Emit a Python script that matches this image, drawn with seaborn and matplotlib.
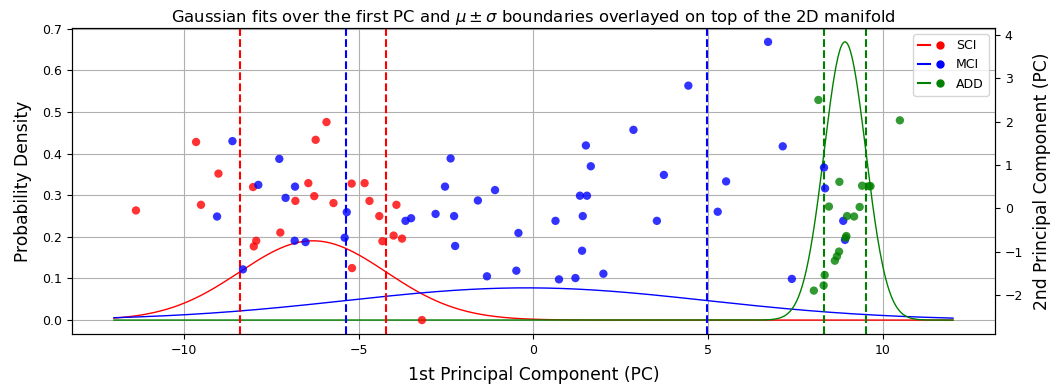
import numpy as np
import pandas as pd
import matplotlib
matplotlib.use("Agg")
import matplotlib.pyplot as plt
import seaborn as sns
from matplotlib.lines import Line2D
from matplotlib.legend_handler import HandlerTuple

groups = ["SCI", "MCI", "ADD"]
colors = {"SCI": "red", "MCI": "blue", "ADD": "green"}

# Gaussian fit parameters (mean, std) along the 1st PC
mu = {"SCI": -6.31, "MCI": -0.20, "ADD": 8.91}
sigma = {"SCI": 2.095, "MCI": 5.157, "ADD": 0.597}

sci_pc1 = [-11.37, -9.65, -9.51, -9.01, -8.02, -8.00, -7.93, -7.24, -6.81, -6.44, -6.27, -6.23,
           -5.92, -5.72, -5.20, -5.19, -4.83, -4.69, -4.41, -4.32, -4.00, -3.92, -3.76, -3.19]
sci_pc2 = [-0.05, 1.53, 0.08, 0.80, 0.49, -0.88, -0.75, -0.56, 0.17, 0.58, 0.28, 1.58,
           1.99, 0.12, 0.57, -1.38, 0.58, 0.17, -0.18, -0.76, -0.63, 0.08, -0.70, -2.58]

mci_pc1 = [-8.61, -9.05, -7.87, -8.31, -7.27, -7.09, -6.82, -6.83, -6.52, -5.34, -5.40,
           -3.66, -3.50, -2.80, -2.53, -2.37, -2.27, -2.24, -1.59, -1.33, -1.10, -0.49, -0.43,
           0.63, 0.73, 1.20, 1.33, 1.53, 1.41, 1.39, 1.50, 1.64, 2.00, 2.86, 3.53, 3.73, 4.43,
           5.27, 5.51, 6.71, 7.13, 7.39, 8.31, 8.34, 8.86, 8.91]
mci_pc2 = [1.55, -0.19, 0.54, -1.41, 1.14, 0.24, 0.50, -0.75, -0.78, -0.09, -0.68,
           -0.29, -0.23, -0.13, 0.50, 1.15, -0.18, -0.87, 0.18, -1.57, 0.42, -1.44, -0.57,
           -0.29, -1.64, -1.61, 0.29, 0.29, -0.18, -0.98, 1.45, 0.97, -1.51, 1.81, -0.29, 0.77, 2.83,
           -0.08, 0.62, 3.84, 1.43, -1.63, 0.94, 0.46, -0.29, -0.73]

add_pc1 = [8.15, 8.75, 8.45, 8.97, 9.17, 9.33, 9.40, 9.60, 9.64, 8.95, 8.93, 8.74, 8.68,
           8.62, 8.33, 8.30, 8.02, 10.48]
add_pc2 = [2.50, 0.61, 0.04, -0.18, -0.19, 0.03, 0.52, 0.51, 0.51, -0.64, -0.68, -1.00, -1.11,
           -1.21, -1.54, -1.78, -1.90, 2.03]

points = pd.DataFrame({
    "pc1": sci_pc1 + mci_pc1 + add_pc1,
    "pc2": sci_pc2 + mci_pc2 + add_pc2,
    "group": ["SCI"] * len(sci_pc1) + ["MCI"] * len(mci_pc1) + ["ADD"] * len(add_pc1),
})

xs = np.linspace(-12, 12, 1000)
curves = pd.concat([
    pd.DataFrame({"x": xs,
                  "density": np.exp(-0.5 * ((xs - mu[g]) / sigma[g]) ** 2) / (np.sqrt(2 * np.pi) * sigma[g]),
                  "group": g})
    for g in groups
], ignore_index=True)

fig = plt.figure(figsize=(10.63, 3.87), dpi=100)
ax = fig.add_axes([0.0677, 0.137, 0.8683, 0.7907])
ax.grid(True, color="#b0b0b0", linewidth=0.8)
ax.set_axisbelow(True)

sns.lineplot(data=curves, x="x", y="density", hue="group", hue_order=groups,
             palette=colors, linewidth=1.0, legend=False, ax=ax, sort=False,
             estimator=None)
for g in groups:
    ax.axvline(mu[g] - sigma[g], color=colors[g], linestyle="--", linewidth=1.5)
    ax.axvline(mu[g] + sigma[g], color=colors[g], linestyle="--", linewidth=1.5)

ax2 = ax.twinx()
sns.scatterplot(data=points, x="pc1", y="pc2", hue="group", hue_order=groups,
                palette=colors, s=36, alpha=0.8, linewidth=0, legend=False, ax=ax2)

ax.set_xlabel("1st Principal Component (PC)", fontsize=12.3, labelpad=7)
ax.set_ylabel("Probability Density", fontsize=12.3, labelpad=7.5)
ax2.set_ylabel("2nd Principal Component (PC)", fontsize=12.3, labelpad=7.5)
ax.set_title(r"Gaussian fits over the first PC and $\mu \pm \sigma$ boundaries overlayed on top of the 2D manifold",
             fontsize=11.8, pad=4)
ax.tick_params(labelsize=9)
ax2.tick_params(labelsize=9)
ax.margins(x=0.05, y=0.05)

handles = [(Line2D([0], [0], color=colors[g], lw=1.5),
            Line2D([0], [0], color=colors[g], marker="o", linestyle="none", markersize=5))
           for g in groups]
ax2.legend(handles, groups, handler_map={tuple: HandlerTuple(ndivide=None)},
           loc="upper right", fontsize=9, handlelength=2.2)

fig.savefig("out.png", dpi=100)
